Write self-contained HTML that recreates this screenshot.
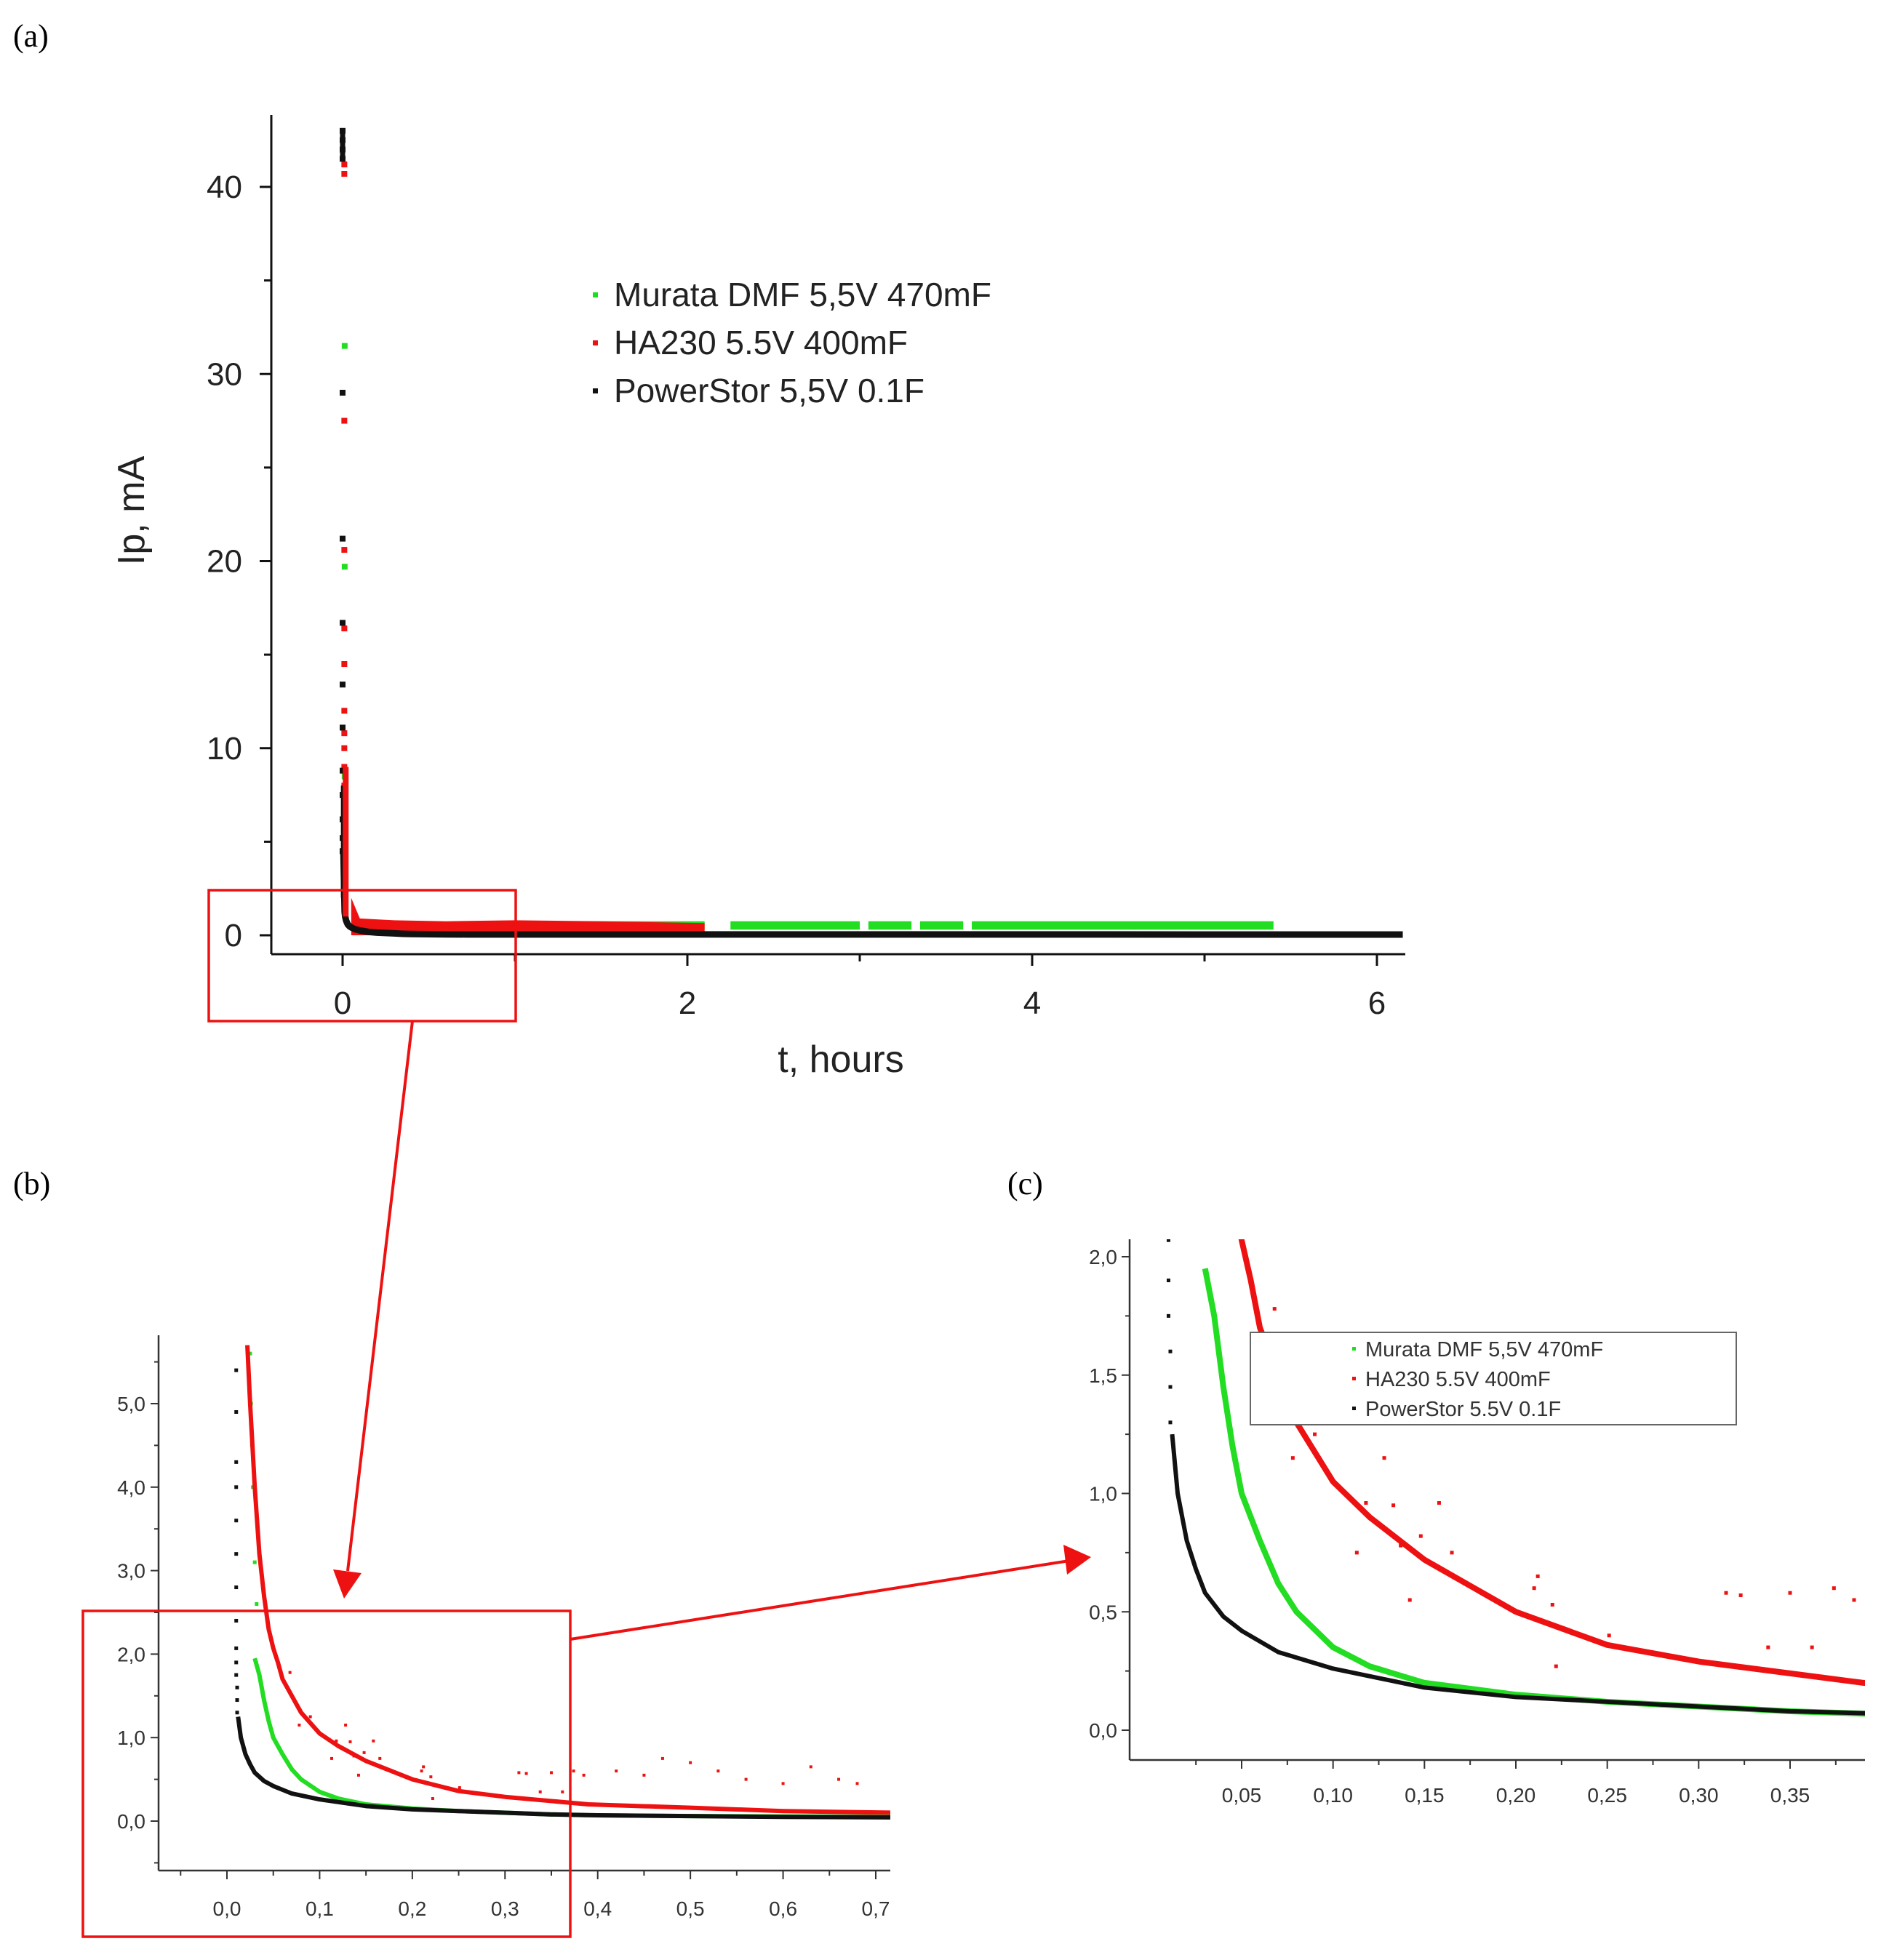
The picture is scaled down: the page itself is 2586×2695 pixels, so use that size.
<!DOCTYPE html>
<html><head><meta charset="utf-8">
<style>
html,body{margin:0;padding:0;background:#fff;}
svg{display:block;}
text{font-family:"Liberation Sans",sans-serif;}
text.serif{font-family:"Liberation Serif",serif;}
</style></head>
<body>
<svg id="fig" width="2586" height="2695" viewBox="0 0 2586 2695" xmlns="http://www.w3.org/2000/svg">
<defs>
<clipPath id="clipB"><rect x="218" y="1836" width="1006" height="736"/></clipPath>
<clipPath id="clipC"><rect x="1553" y="1704" width="1011" height="716"/></clipPath>
</defs>
<text class="serif" x="18" y="64" font-size="44">(a)</text>
<text class="serif" x="18" y="1642" font-size="44">(b)</text>
<text class="serif" x="1385" y="1642" font-size="44">(c)</text>
<g id="gA"></g>
<g id="gB"></g>
<g id="gC"></g>
<g id="gAnn"></g>
</svg>
<script>
// ---- data (t in hours, I in mA) ----
const blackT = [0.012,0.015,0.02,0.025,0.03,0.04,0.05,0.07,0.10,0.15,0.20,0.25,0.30,0.35,0.40,0.50,0.60,0.72];
const blackI = [1.25,1.0,0.8,0.68,0.58,0.48,0.42,0.33,0.26,0.18,0.14,0.12,0.10,0.08,0.07,0.06,0.05,0.045];
const blackTopT = [0.010,0.010,0.010,0.010,0.010,0.010,0.010,0.010,0.010,0.010,0.010,0.011,0.011,0.011];
const blackTopI = [5.4,4.9,4.3,4.0,3.6,3.2,2.8,2.4,2.07,1.9,1.75,1.6,1.45,1.3];
const greenT = [0.030,0.035,0.040,0.045,0.05,0.06,0.07,0.08,0.10,0.12,0.15,0.20,0.25,0.30,0.35,0.39,0.50,0.72];
const greenI = [1.95,1.75,1.45,1.2,1.0,0.8,0.62,0.5,0.35,0.27,0.2,0.15,0.12,0.10,0.08,0.07,0.06,0.05];
const greenTopT = [0.025,0.026,0.027,0.028,0.03,0.032];
const greenTopI = [5.6,5.0,4.5,4.0,3.1,2.6];
const redT = [0.022,0.025,0.03,0.035,0.04,0.045,0.05,0.055,0.06,0.07,0.08,0.10,0.12,0.15,0.20,0.25,0.30,0.35,0.39,0.50,0.60,0.72];
const redI = [5.7,5.0,4.0,3.2,2.7,2.3,2.07,1.9,1.7,1.5,1.3,1.05,0.9,0.72,0.5,0.36,0.29,0.24,0.2,0.16,0.12,0.1];
const redOutT = [0.068,0.078,0.09,0.098,0.113,0.118,0.128,0.133,0.137,0.142,0.148,0.158,0.165,0.172,0.21,0.212,0.22,0.222,0.251,0.315,0.323,0.338,0.35,0.362,0.374,0.385,0.42,0.45,0.47,0.5,0.53,0.56,0.6,0.63,0.66,0.68];
const redOutI = [1.78,1.15,1.25,1.08,0.75,0.96,1.15,0.95,0.78,0.55,0.82,0.96,0.75,0.62,0.6,0.65,0.53,0.27,0.4,0.58,0.57,0.35,0.58,0.35,0.6,0.55,0.6,0.55,0.75,0.7,0.6,0.5,0.45,0.65,0.5,0.45];
// panel a extras
const aSpikeBlackI = [43,42.5,42,41.5,29,21.2,16.7,13.4,11.1,8.8,7.5,6.2,5.2,4.5];
const aSpikeRedI = [41.2,40.7,27.5,20.6,16.4,14.5,12.0,10.8,10.0,9.0,8.0,7.0];
const aSpikeGreenI = [31.5,19.7,8.5,6.5];
const redBandT = [0.05,0.1,0.3,0.6,1.0,1.5,2.1];
const redBandI = [2.0,0.9,0.8,0.75,0.8,0.75,0.65];
const greenSegStart = [1.0,2.25,3.05,3.35,3.65];
const greenSegEnd = [2.1,3.0,3.3,3.6,5.4];
const greenSegLow = [0.3,0.3,0.3,0.3,0.3];
const greenSegHigh = [0.75,0.75,0.75,0.75,0.75];
const aXTicks = [0,2,4,6];
const aYTicks = [0,10,20,30,40];
const bXTicks = ["0,0","0,1","0,2","0,3","0,4","0,5","0,6","0,7"];
const bYTicks = ["0,0","1,0","2,0","3,0","4,0","5,0"];
const cXTicks = ["0,05","0,10","0,15","0,20","0,25","0,30","0,35"];
const cYTicks = ["0,0","0,5","1,0","1,5","2,0"];
const legendLabels = ["Murata DMF 5,5V 470mF","HA230 5.5V 400mF","PowerStor 5,5V 0.1F"];
const legendLabelsC = ["Murata DMF 5,5V 470mF","HA230 5.5V 400mF","PowerStor 5.5V 0.1F"];
const legendColors = ["#19e019","#ee1111","#111111"];

const NS="http://www.w3.org/2000/svg";
function mk(parent,tag,attrs,txt){const e=document.createElementNS(NS,tag);for(const k in attrs)e.setAttribute(k,attrs[k]);if(txt!==undefined)e.textContent=txt;parent.appendChild(e);return e;}
function lin(d0,d1,r0,r1){return v=>r0+(v-d0)*(r1-r0)/(d1-d0);}

// ===== Panel A =====
const gA=document.getElementById('gA');
const ax=lin(0,2,471,945), ay=lin(0,40,1286,257);
{
 let e=mk(gA,'line',{x1:373,y1:158,x2:373,y2:1312,stroke:'#111','stroke-width':3});
 
 e=mk(gA,'line',{x1:373,y1:1312,x2:1932,y2:1312,stroke:'#111','stroke-width':3});
 
 for(let v=0;v<=6;v++){mk(gA,'line',{x1:ax(v),y1:1312,x2:ax(v),y2:v%2?1322:1328,stroke:'#111','stroke-width':3});}
 aXTicks.forEach(v=>{const t=mk(gA,'text',{x:ax(v),y:1394,'text-anchor':'middle','font-size':44,fill:'#222'},String(v));
  });
 for(let v=0;v<=40;v+=5){mk(gA,'line',{x1:373,y1:ay(v),x2:v%10?363:357,y2:ay(v),stroke:'#111','stroke-width':3});}
 aYTicks.forEach(v=>{const t=mk(gA,'text',{x:333,y:ay(v)+15,'text-anchor':'end','font-size':44,fill:'#222'},String(v));
  });
 let t=mk(gA,'text',{x:1156,y:1474,'text-anchor':'middle','font-size':52,fill:'#222'},'t, hours');
 
 t=mk(gA,'text',{x:0,y:0,'text-anchor':'middle','font-size':52,fill:'#222',transform:'translate(198,702) rotate(-90)'},'Ip, mA');
 
 greenSegStart.forEach((s,i)=>{const r=mk(gA,'rect',{x:ax(s),y:ay(greenSegHigh[i]),width:ax(greenSegEnd[i])-ax(s),height:ay(greenSegLow[i])-ay(greenSegHigh[i]),fill:'#22dd22'});
  });
 let d='M'+ax(redBandT[0])+','+ay(0);
 redBandT.forEach((v,i)=>{d+=' L'+ax(v)+','+ay(redBandI[i]);});
 d+=' L'+ax(redBandT[redBandT.length-1])+','+ay(0)+' Z';
 e=mk(gA,'path',{d:d,fill:'#ee1111'});
 
 let pts=blackT.map((v,i)=>ax(v)+','+ay(blackI[i])).join(' ');
 e=mk(gA,'polyline',{points:ax(0.005)+','+ay(4.5)+' '+pts+' '+ax(6.15)+','+ay(0.04),fill:'none',stroke:'#111','stroke-width':9});
 
 aSpikeRedI.forEach(v=>{const r=mk(gA,'rect',{x:ax(0.01)-4,y:ay(v)-4,width:8,height:8,fill:'#ee1111'});});
 aSpikeGreenI.forEach(v=>{const r=mk(gA,'rect',{x:ax(0.012)-4,y:ay(v)-4,width:8,height:8,fill:'#22dd22'});});
 aSpikeBlackI.forEach(v=>{const r=mk(gA,'rect',{x:ax(0.0)-4,y:ay(v)-4,width:8,height:8,fill:'#111'});});
 mk(gA,'line',{x1:ax(0.0),y1:ay(41.5),x2:ax(0.0),y2:ay(43),stroke:'#111','stroke-width':7});
 mk(gA,'line',{x1:ax(0.005),y1:ay(2),x2:ax(0.005),y2:ay(8),stroke:'#111','stroke-width':7});
 mk(gA,'line',{x1:ax(0.018),y1:ay(1),x2:ax(0.018),y2:ay(9),stroke:'#ee1111','stroke-width':8});
 legendLabels.forEach((L,i)=>{const y=406+i*66;
  const m=mk(gA,'rect',{x:815,y:y-4,width:7,height:7,fill:legendColors[i]});
  const t=mk(gA,'text',{x:844,y:y+15,'font-size':46,fill:'#222'},L);});
}

function drawSeries(g,X,Y,T,I,color,w,name,clip){
 const pts=T.map((v,i)=>X(v)+','+Y(I[i])).join(' ');
 const e=mk(g,'polyline',{points:pts,fill:'none',stroke:color,'stroke-width':w,'clip-path':clip,'stroke-linejoin':'round'});
 
}
function drawDots(g,X,Y,T,I,color,s,name,clip){
 T.forEach((v,i)=>{const r=mk(g,'rect',{x:X(v)-s/2,y:Y(I[i])-s/2,width:s,height:s,fill:color,'clip-path':clip});
  });
}

// ===== Panel B =====
const gB=document.getElementById('gB');
const bx=lin(0,0.7,312,1204), by=lin(0,5,2504,1930);
{
 let e=mk(gB,'line',{x1:218,y1:1836,x2:218,y2:2572,stroke:'#333','stroke-width':2.5});
 
 e=mk(gB,'line',{x1:218,y1:2572,x2:1224,y2:2572,stroke:'#333','stroke-width':2.5});
 
 for(let k=-1;k<=14;k++){const v=k*0.05;mk(gB,'line',{x1:bx(v),y1:2572,x2:bx(v),y2:k%2?2579:2584,stroke:'#333','stroke-width':2});}
 bXTicks.forEach((L,i)=>{const t=mk(gB,'text',{x:bx(i*0.1),y:2634,'text-anchor':'middle','font-size':28,fill:'#333'},L);});
 for(let k=-1;k<=11;k++){const v=k*0.5;mk(gB,'line',{x1:218,y1:by(v),x2:k%2?212:207,y2:by(v),stroke:'#333','stroke-width':2});}
 bYTicks.forEach((L,i)=>{const t=mk(gB,'text',{x:200,y:by(i)+10,'text-anchor':'end','font-size':28,fill:'#333'},L);});
 drawDots(gB,bx,by,blackTopT,blackTopI,'#111',5,'b-point-powerstor','url(#clipB)');
 drawDots(gB,bx,by,greenTopT,greenTopI,'#22dd22',5,'b-point-murata','url(#clipB)');
 drawSeries(gB,bx,by,redT,redI,'#ee1111',6,'b-series-ha230','url(#clipB)');
 drawSeries(gB,bx,by,greenT,greenI,'#22dd22',6,'b-series-murata','url(#clipB)');
 drawSeries(gB,bx,by,blackT,blackI,'#111',6,'b-series-powerstor','url(#clipB)');
 drawDots(gB,bx,by,redOutT,redOutI,'#ee1111',4,'b-point-ha230-outlier','url(#clipB)');
}

// ===== Panel C =====
const gC=document.getElementById('gC');
const cx=lin(0.05,0.35,1707,2461), cy=lin(0,2,2379,1728);
{
 let e=mk(gC,'line',{x1:1553,y1:1704,x2:1553,y2:2420,stroke:'#333','stroke-width':2.5});
 
 e=mk(gC,'line',{x1:1553,y1:2420,x2:2564,y2:2420,stroke:'#333','stroke-width':2.5});
 
 for(let k=1;k<=15;k++){const v=k*0.025;mk(gC,'line',{x1:cx(v),y1:2420,x2:cx(v),y2:k%2?2427:2432,stroke:'#333','stroke-width':2});}
 cXTicks.forEach((L,i)=>{const t=mk(gC,'text',{x:cx(0.05+i*0.05),y:2478,'text-anchor':'middle','font-size':28,fill:'#333'},L);});
 for(let k=0;k<=8;k++){const v=k*0.25;mk(gC,'line',{x1:1553,y1:cy(v),x2:k%2?1547:1542,y2:cy(v),stroke:'#333','stroke-width':2});}
 cYTicks.forEach((L,i)=>{const t=mk(gC,'text',{x:1536,y:cy(i*0.5)+10,'text-anchor':'end','font-size':28,fill:'#333'},L);});
 drawDots(gC,cx,cy,blackTopT,blackTopI,'#111',5,'c-point-powerstor','url(#clipC)');
 drawSeries(gC,cx,cy,redT,redI,'#ee1111',8,'c-series-ha230','url(#clipC)');
 drawSeries(gC,cx,cy,greenT,greenI,'#22dd22',8,'c-series-murata','url(#clipC)');
 drawSeries(gC,cx,cy,blackT,blackI,'#111',6,'c-series-powerstor','url(#clipC)');
 drawDots(gC,cx,cy,redOutT,redOutI,'#ee1111',5,'c-point-ha230-outlier','url(#clipC)');
 const lb=mk(gC,'rect',{x:1719,y:1832,width:668,height:127,fill:'#fff',stroke:'#666','stroke-width':2});
 
 legendLabelsC.forEach((L,i)=>{const y=1855+i*41;
  const m=mk(gC,'rect',{x:1859,y:y-3,width:5,height:5,fill:legendColors[i]});
  const t=mk(gC,'text',{x:1877,y:y+10,'font-size':29,fill:'#333'},L);});
}

// ===== annotations =====
const gN=document.getElementById('gAnn');
{
 let r=mk(gN,'rect',{x:287,y:1224,width:422,height:180,fill:'none',stroke:'#ee1111','stroke-width':3.5});
 
 r=mk(gN,'rect',{x:114,y:2215,width:670,height:448,fill:'none',stroke:'#ee1111','stroke-width':3.5});
 
 let l=mk(gN,'line',{x1:567,y1:1404,x2:478,y2:2160,stroke:'#ee1111','stroke-width':4});
 
 mk(gN,'polygon',{points:'458,2158 497,2163 473,2198',fill:'#ee1111'});
 l=mk(gN,'line',{x1:784,y1:2254,x2:1470,y2:2146,stroke:'#ee1111','stroke-width':4});
 
 mk(gN,'polygon',{points:'1500,2141 1462,2124 1467,2165',fill:'#ee1111'});
}
</script>
</body></html>
